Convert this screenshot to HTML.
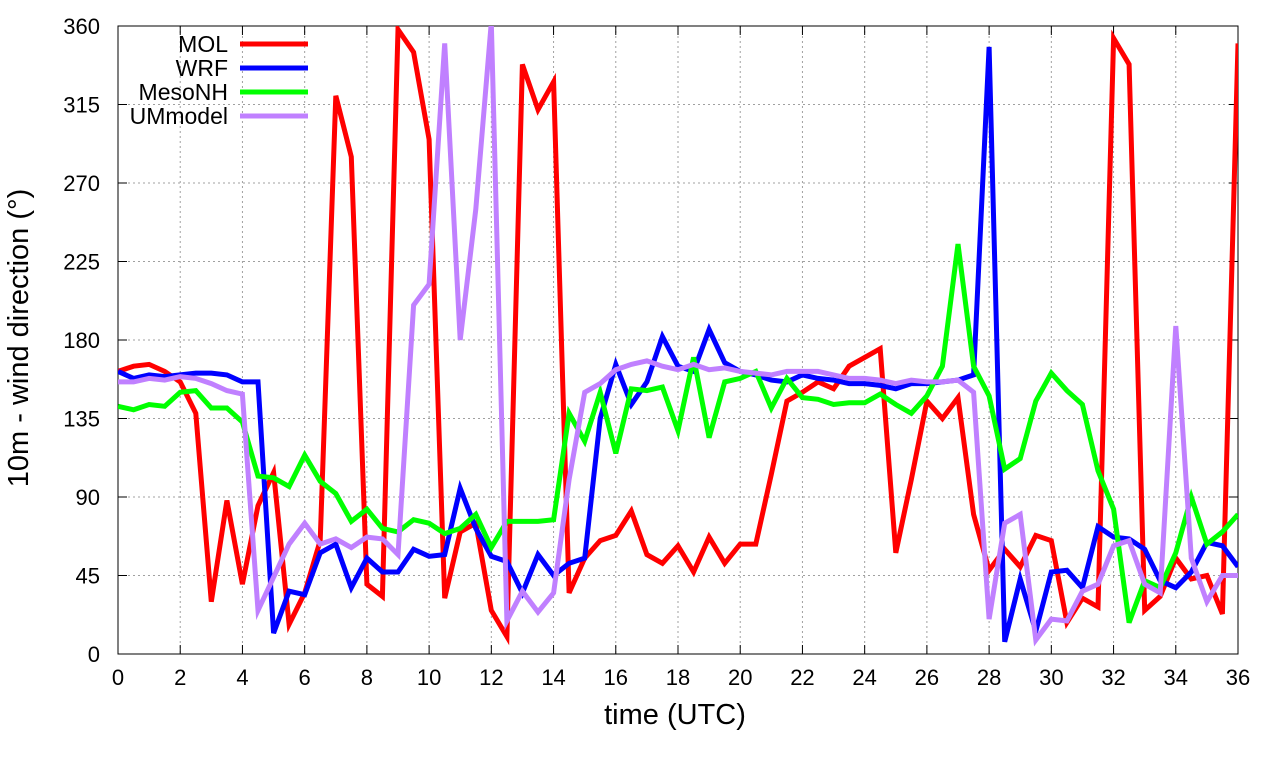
<!DOCTYPE html>
<html><head><meta charset="utf-8"><style>
body{margin:0;background:#fff}
svg{font-family:"Liberation Sans",sans-serif}
</style></head><body>
<svg id="chart" width="1280" height="760" viewBox="0 0 1280 760" xmlns="http://www.w3.org/2000/svg">
<defs><clipPath id="clip"><rect x="118" y="26" width="1120" height="628"/></clipPath></defs>
<g id="grid"></g>
<g id="axes"></g>
<g id="series" clip-path="url(#clip)"></g>
<g id="legend"></g>
<text transform="translate(28,338) rotate(-90)" text-anchor="middle" font-size="29">10m - wind direction (°)</text>
<text x="675" y="724" text-anchor="middle" font-size="29">time (UTC)</text>
</svg>
<script>
const xTicks=[0,2,4,6,8,10,12,14,16,18,20,22,24,26,28,30,32,34,36];
const yTicks=[0,45,90,135,180,225,270,315,360];
const seriesNames=["MOL","WRF","MesoNH","UMmodel"];
const seriesColors=["#ff0000","#0000ff","#00ff00","#c080ff"];
const mol=[162,165,166,162,156,138,30,88,40,85,104,17,35,65,320,285,40,33,358,345,295,32,70,75,25,10,338,312,328,35,55,65,68,82,57,52,62,47,67,52,63,63,103,145,150,156,152,165,170,175,58,100,145,135,147,80,48,60,50,68,65,18,32,27,353,338,25,33,55,43,45,23,350];
const wrf=[162,158,160,159,160,161,161,160,156,156,12,36,34,58,63,38,55,47,47,60,56,57,95,72,56,53,35,57,45,52,55,135,166,143,156,182,165,162,186,167,162,160,157,156,160,158,157,155,155,154,152,155,155,156,157,160,348,7,43,13,47,48,38,73,67,66,60,42,38,47,64,62,50];
const mesonh=[142,140,143,142,150,151,141,141,133,102,101,96,114,99,92,76,83,72,70,77,75,69,72,80,61,76,76,76,77,138,122,150,115,152,151,153,128,170,124,156,158,162,141,158,147,146,143,144,144,149,143,138,148,165,235,165,148,106,112,145,161,151,143,105,83,18,42,38,58,90,63,70,80];
const ummodel=[156,156,158,157,159,158,155,151,149,25,44,63,75,63,66,61,67,66,57,200,212,350,180,255,362,19,36,24,35,100,150,155,163,166,168,165,163,166,163,164,162,161,160,162,162,162,160,158,158,157,155,157,156,156,157,150,20,75,80,8,20,19,36,40,62,65,40,35,188,55,30,45,45];
const allSeries=[mol,wrf,mesonh,ummodel];
const X0=118,X1=1238,Y0=654,Y1=26;
function xs(t){return X0+(t/36)*(X1-X0);}
function ys(v){return Y0-(v/360)*(Y0-Y1);}
const NS="http://www.w3.org/2000/svg";
function mk(tag,attrs,parent){const e=document.createElementNS(NS,tag);for(const k in attrs)e.setAttribute(k,attrs[k]);parent.appendChild(e);return e;}
const grid=document.getElementById('grid'),axes=document.getElementById('axes'),ser=document.getElementById('series'),leg=document.getElementById('legend');
xTicks.forEach(t=>{
  const x=xs(t);
  if(t>0&&t<36){const g=mk('line',{x1:x,x2:x,y1:Y1,y2:Y0,stroke:'#a0a0a0','stroke-dasharray':'2,3','stroke-width':1},grid);
  
  }
  mk('line',{x1:x,x2:x,y1:Y0,y2:Y0-9,stroke:'#000'},axes);
  mk('line',{x1:x,x2:x,y1:Y1,y2:Y1+9,stroke:'#000'},axes);
  const l=mk('text',{x:x,y:685,'text-anchor':'middle','font-size':22},axes);
  l.textContent=t;
  
  
});
yTicks.forEach(v=>{
  const y=ys(v);
  if(v>0&&v<360){const g=mk('line',{x1:X0,x2:X1,y1:y,y2:y,stroke:'#a0a0a0','stroke-dasharray':'2,3','stroke-width':1},grid);
  
  }
  mk('line',{x1:X0,x2:X0+9,y1:y,y2:y,stroke:'#000'},axes);
  mk('line',{x1:X1,x2:X1-9,y1:y,y2:y,stroke:'#000'},axes);
  const l=mk('text',{x:100,y:y+8,'text-anchor':'end','font-size':22},axes);
  l.textContent=v;
  
  
});
const fr=mk('rect',{x:X0,y:Y1,width:X1-X0,height:Y0-Y1,fill:'none',stroke:'#000','stroke-width':1},axes);


allSeries.forEach((d,i)=>{
  const pts=d.map((v,j)=>xs(j*0.5).toFixed(1)+','+ys(v).toFixed(1)).join(' ');
  const p=mk('polyline',{points:pts,fill:'none',stroke:seriesColors[i],'stroke-width':5,'stroke-linejoin':'miter'},ser);
  
  
  const ly=44+i*24;
  const t=mk('text',{x:228,y:ly+8,'text-anchor':'end','font-size':23},leg);
  t.textContent=seriesNames[i];
  
  
  const ln=mk('line',{x1:240,x2:308,y1:ly,y2:ly,stroke:seriesColors[i],'stroke-width':5},leg);
  
  
});
</script>
</body></html>
